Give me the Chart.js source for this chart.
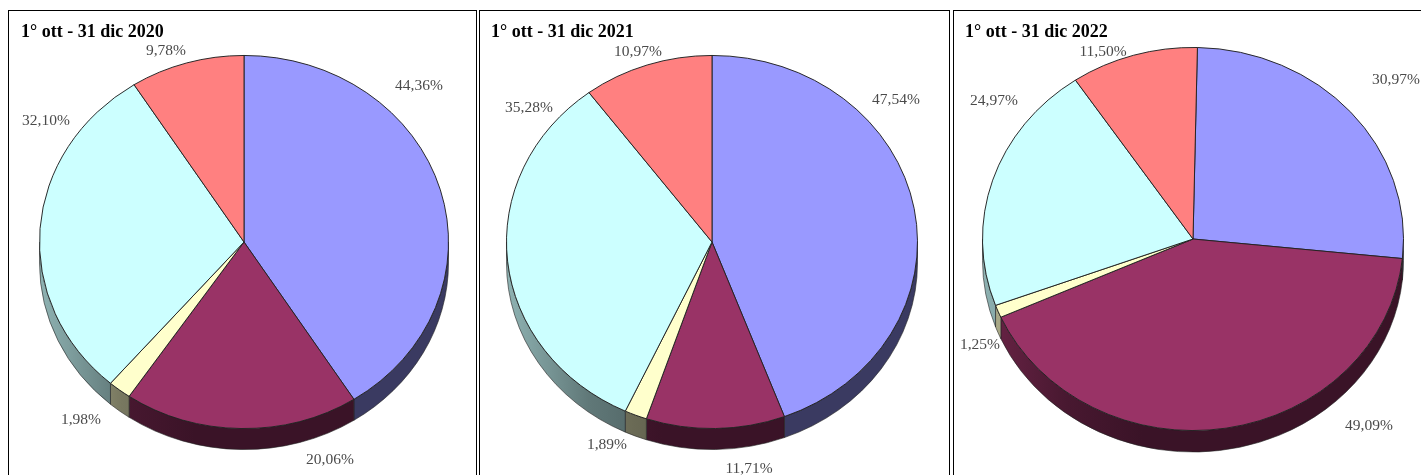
<!DOCTYPE html>
<html><head><meta charset="utf-8">
<style>
html,body{margin:0;padding:0;background:#fff;overflow:hidden;width:1421px;height:475px}
.panel{position:absolute;box-sizing:border-box;border:1px solid #000;border-bottom:none;background:#fff}
.panel canvas{position:absolute;left:0;top:0}
</style>
<script src="https://cdn.jsdelivr.net/npm/chart.js@4"></script>
</head><body>
<script>
const categories = ['Serie A','Serie B','Serie C','Serie D','Serie E'];
const titles = ['1° ott - 31 dic 2020','1° ott - 31 dic 2021','1° ott - 31 dic 2022'];
const values2020 = [44.36,20.06,1.98,32.10,9.78];
const values2021 = [47.54,11.71,1.89,35.28,10.97];
const values2022 = [30.97,49.09,1.25,24.97,11.50];
const colors = ['#9999FF','#993366','#FFFFCC','#CCFFFF','#FF8080'];
const allValues = [values2020,values2021,values2022];

// page layout of each panel (box, pie centre, radii) and label centres in page pixels
const panels = [
 {box:[8,10,469,465], cx:244, cy:242, rx:205, ry:187, depth:21, rot:0, titleX:21,
  labels:[[419,85],[330,459],[81,419],[46,120],[166,50]]},
 {box:[479,10,471,465], cx:712, cy:242, rx:206, ry:187, depth:21, rot:0, titleX:491,
  labels:[[896,99],[749,468],[607,444],[529,107],[638,51]]},
 {box:[953,10,472,465], cx:1193, cy:239, rx:211, ry:192, depth:21.5, rot:1.2, titleX:965,
  labels:[[1396,79],[1369,425],[980,344],[994,100],[1103,51]]}
];

function shade(hex,f){
  const n=parseInt(hex.slice(1),16);
  return `rgb(${Math.round((n>>16&255)*f)},${Math.round((n>>8&255)*f)},${Math.round((n&255)*f)})`;
}
const pie3d = {
  id:'pie3d',
  beforeDatasetsDraw(chart,args,o){
    const ctx=chart.ctx, arcs=chart.getDatasetMeta(0).data;
    const cx=arcs[0].x, cy=arcs[0].y, r=arcs[0].outerRadius, ry=r*o.k;
    arcs.forEach((arc,i)=>{
      const s=Math.max(arc.startAngle,0), e=Math.min(arc.endAngle,Math.PI);
      if(e<=s) return;
      const g=ctx.createLinearGradient(cx-r,0,cx+r,0), c=colors[i];
      g.addColorStop(0,shade(c,.70)); g.addColorStop(.2,shade(c,.47));
      g.addColorStop(.38,shade(c,.38)); g.addColorStop(1,shade(c,.38));
      ctx.beginPath();
      ctx.ellipse(cx,cy,r,ry,0,s,e,false);
      ctx.ellipse(cx,cy+o.depth,r,ry,0,e,s,true);
      ctx.closePath();
      ctx.fillStyle=g; ctx.fill();
      ctx.strokeStyle='#222'; ctx.lineWidth=.6; ctx.stroke();
    });
    ctx.save();
    ctx.translate(cx,cy); ctx.scale(1,o.k); ctx.translate(-cx,-cy);
  },
  afterDatasetsDraw(chart,args,o){
    chart.ctx.restore();
    const ctx=chart.ctx;
    ctx.save();
    ctx.font='15.5px "Liberation Serif"'; ctx.fillStyle='#4a4a4a';
    ctx.textAlign='center'; ctx.textBaseline='middle';
    chart.data.datasets[0].data.forEach((v,i)=>{
      ctx.fillText(v.toFixed(2).replace('.',',')+'%',o.labels[i][0],o.labels[i][1]+1);
    });
    ctx.restore();
  }
};

panels.forEach((p,i)=>{
  const [bx,by,bw,bh]=p.box;
  const div=document.createElement('div');
  div.className='panel';
  div.style.cssText=`left:${bx}px;top:${by}px;width:${bw}px;height:${bh}px`;
  const W=bw-2, H=bh-1, x0=bx+1, y0=by+1;
  const cv=document.createElement('canvas');
  cv.width=W; cv.height=H; cv.style.width=W+'px'; cv.style.height=H+'px';
  div.appendChild(cv); document.body.appendChild(div);
  const padL=p.titleX-x0, padR=padL+W-2*(p.cx-x0);
  const topH=p.cy-y0-p.rx, botH=H-(p.cy-y0)-p.rx;
  const titleTop=12, titleLine=18;
  new Chart(cv,{
    type:'pie',
    data:{labels:categories,datasets:[{data:allValues[i],backgroundColor:colors,
      borderColor:'#222',borderWidth:1,hoverOffset:0}]},
    options:{
      responsive:false,animation:false,rotation:p.rot,
      events:[],
      layout:{padding:{left:padL,right:padR,top:0,bottom:botH}},
      plugins:{
        legend:{display:false},tooltip:{enabled:false},
        title:{display:true,text:titles[i],align:'start',color:'#000',
          font:{family:'"Liberation Serif"',size:18,weight:'bold',lineHeight:1},
          padding:{top:titleTop,bottom:topH-titleTop-titleLine}},
        pie3d:{k:p.ry/p.rx,depth:p.depth,labels:p.labels.map(l=>[l[0]-x0,l[1]-y0])}
      }
    },
    plugins:[pie3d]
  });
});
</script>
</body></html>
